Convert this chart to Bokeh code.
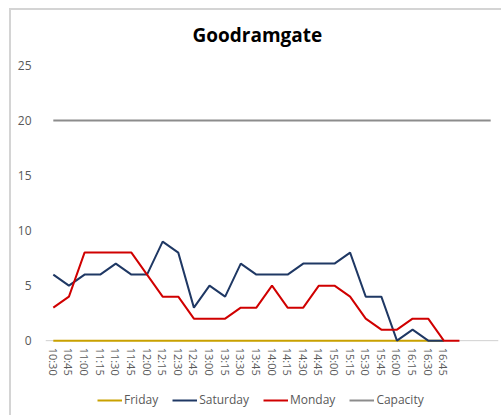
from bokeh.plotting import figure
from bokeh.models import Legend, LegendItem, FixedTicker, Range1d, Span, Title
from bokeh.layouts import column
from bokeh.embed import file_html
from bokeh.resources import INLINE

# time slots (last three slots carry no tick label in the original)
times = ["10:30", "10:45", "11:00", "11:15", "11:30", "11:45", "12:00", "12:15",
         "12:30", "12:45", "13:00", "13:15", "13:30", "13:45", "14:00", "14:15",
         "14:30", "14:45", "15:00", "15:15", "15:30", "15:45", "16:00", "16:15",
         "16:30", "16:45", "17:00", "17:15", "17:30"]
tick_labels = ["10:30", "10:45", "11:00", "11:15", "11:30", "11:45", "12:00", "12:15",
               "12:30", "12:45", "13:00", "13:15", "13:30", "13:45", "14:00", "14:15",
               "14:30", "14:45", "15:00", "15:15", "15:30", "15:45", "16:00", "16:15",
               "16:30", "16:45"]
friday = [0, 0, 0, 0, 0, 0, 0, 0, 0, 0, 0, 0, 0, 0, 0, 0, 0, 0, 0, 0, 0, 0, 0, 0, 0, 0]
saturday = [6, 5, 6, 6, 7, 6, 6, 9, 8, 3, 5, 4, 7, 6, 6, 6, 7, 7, 7, 8, 4, 4, 0, 1, 0, 0]
monday = [3, 4, 8, 8, 8, 8, 6, 4, 4, 2, 2, 2, 3, 3, 5, 3, 3, 5, 5, 4, 2, 1, 1, 2, 2, 0, 0]
capacity = [20, 20, 20, 20, 20, 20, 20, 20, 20, 20, 20, 20, 20, 20, 20, 20, 20, 20, 20,
            20, 20, 20, 20, 20, 20, 20, 20, 20, 20]
y_ticks = [0, 5, 10, 15, 20, 25]

FONT = "Open Sans"
TXT = "#595959"

# plot area reaches down to the legend row; the category axis sits at y = 0
p = figure(frame_width=453, frame_height=350, output_backend="svg", toolbar_location=None,
           x_range=Range1d(-0.5, len(times) - 0.5), y_range=Range1d(-6.8, 25),
           min_border_left=34, min_border_right=3, min_border_top=55, min_border_bottom=0)

p.title.text = "Goodramgate"
p.title.align = "left"
p.title.text_font = FONT
p.title.text_font_size = "19px"
p.title.text_font_style = "bold"
p.title.text_color = "#000000"
p.title.offset = 147
p.title.standoff = 6
# blank spacer between the title and the plot area
p.add_layout(Title(text=" ", text_font_size="8px", standoff=4), "above")

p.outline_line_color = None
p.xgrid.grid_line_color = None
p.ygrid.grid_line_color = None

# category baseline (x axis line) under the series
p.add_layout(Span(location=0, dimension="width", line_color="#D0D0D0", line_width=1,
                  level="underlay"))

xi = list(range(len(times)))

r_fri = p.line(xi[:len(friday)], friday, line_color="#C9A100", line_width=2)
r_sat = p.line(xi[:len(saturday)], saturday, line_color="#1F3864", line_width=2)
r_mon = p.line(xi[:len(monday)], monday, line_color="#D00000", line_width=2)
r_cap = p.line(xi[:len(capacity)], capacity, line_color="#8C8C8C", line_width=2)

xa = p.xaxis[0]
xa.fixed_location = 0
xa.ticker = FixedTicker(ticks=list(range(len(tick_labels))))
xa.major_label_overrides = {i: t for i, t in enumerate(tick_labels)}
xa.major_label_orientation = "vertical"
xa.axis_line_color = None
xa.major_tick_line_color = None
xa.minor_tick_line_color = None
xa.major_tick_out = 0
xa.major_label_standoff = 7
xa.major_label_text_font = FONT
xa.major_label_text_font_size = "11px"
xa.major_label_text_color = TXT

ya = p.yaxis[0]
ya.ticker = FixedTicker(ticks=y_ticks)
ya.axis_line_color = None
ya.major_tick_line_color = None
ya.minor_tick_line_color = None
ya.major_tick_out = 0
ya.major_label_standoff = 14
ya.major_label_text_font = FONT
ya.major_label_text_font_size = "12px"
ya.major_label_text_color = TXT

legend = Legend(items=[LegendItem(label="Friday", renderers=[r_fri]),
                       LegendItem(label="Saturday", renderers=[r_sat]),
                       LegendItem(label="Monday", renderers=[r_mon]),
                       LegendItem(label="Capacity", renderers=[r_cap])],
                orientation="horizontal", location=(52, 7),
                border_line_color=None, background_fill_alpha=0,
                label_text_font=FONT, label_text_font_size="12px", label_text_color=TXT,
                glyph_width=25, glyph_height=16, label_height=16,
                label_standoff=2, spacing=14, margin=0, padding=0)
p.add_layout(legend)

layout = column(p, styles={"margin-left": "9px", "margin-top": "8px",
                           "border-left": "2px solid #d4d4d4",
                           "border-top": "2px solid #d4d4d4"})

open("out.html", "w").write(file_html(layout, INLINE))
